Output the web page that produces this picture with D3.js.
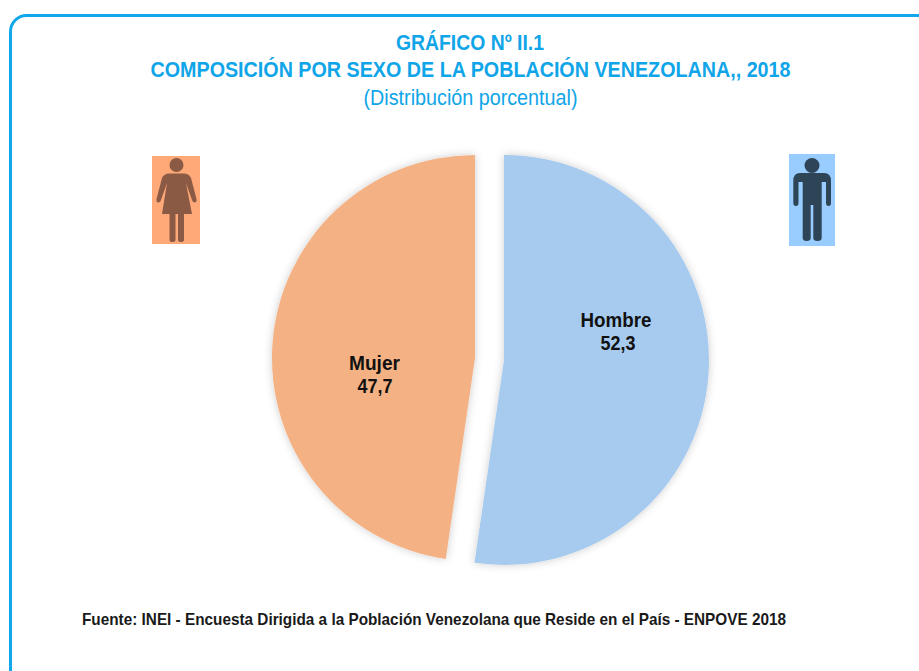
<!DOCTYPE html>
<html>
<head>
<meta charset="utf-8">
<script src="https://cdn.jsdelivr.net/npm/d3@7"></script>
<style>
  html, body { margin: 0; padding: 0; background: #fff; }
  svg { display: block; }
</style>
</head>
<body>
<div id="chart"></div>
<script>
const categories = ["Hombre", "Mujer"];
const shares = [52.3, 47.7];
const valueLabels = ["52,3", "47,7"];
const titleLines = [
  "GRÁFICO Nº II.1",
  "COMPOSICIÓN POR SEXO DE LA POBLACIÓN VENEZOLANA,, 2018"
];
const subtitle = "(Distribución porcentual)";
const source = "Fuente: INEI - Encuesta Dirigida a la Población Venezolana que Reside en el País - ENPOVE 2018";

const width = 919;
const height = 671;
const fontFamily = '"Liberation Sans", Arial, sans-serif';
const frameColor = "#10a8ea";

const sliceColor = d3.scaleOrdinal().domain(categories).range(["#a6cbef", "#f4b183"]);
// each slice has its own centre and radius because the pie is exploded
const sliceGeom = {
  Hombre: { cx: 504, cy: 360, r: 205, labelX: 616, labelY: 327, valueX: 618, nameW: 71, valueW: 35 },
  Mujer: { cx: 475, cy: 358, r: 203, labelX: 374.5, labelY: 370, valueX: 375, nameW: 51, valueW: 35 }
};

const svg = d3.select("#chart").append("svg")
  .attr("width", width)
  .attr("height", height)
  .attr("viewBox", `0 0 ${width} ${height}`)
  .style("font-family", fontFamily);

const defs = svg.append("defs");
const shadow = defs.append("filter").attr("id", "soft-shadow")
  .attr("x", "-10%").attr("y", "-10%").attr("width", "120%").attr("height", "120%");
shadow.append("feDropShadow")
  .attr("dx", 0).attr("dy", 0).attr("stdDeviation", 4)
  .attr("flood-color", "#000").attr("flood-opacity", 0.2);
defs.append("filter").attr("id", "icon-blur")
  .append("feGaussianBlur").attr("stdDeviation", 0.7);

// Frame, runs off the page at right and bottom like the source
svg.append("rect")
  .attr("x", 10.5).attr("y", 15.5)
  .attr("width", 930).attr("height", 670)
  .attr("rx", 16)
  .attr("fill", "#fff")
  .attr("stroke", frameColor)
  .attr("stroke-width", 3);

// Titles: the source font is condensed, so squeeze a larger size into the measured width
const titles = svg.append("g").attr("text-anchor", "middle").attr("fill", "#0fa5e8");
titles.append("text").attr("x", 470).attr("y", 50)
  .attr("font-size", 22.5).attr("font-weight", 700).attr("textLength", 148)
  .attr("lengthAdjust", "spacingAndGlyphs").text(titleLines[0]);
titles.append("text").attr("x", 470.5).attr("y", 77)
  .attr("font-size", 22.5).attr("font-weight", 700).attr("textLength", 640)
  .attr("lengthAdjust", "spacingAndGlyphs").text(titleLines[1]);
titles.append("text").attr("x", 470.5).attr("y", 105)
  .attr("font-size", 22).attr("textLength", 214)
  .attr("lengthAdjust", "spacingAndGlyphs").text(subtitle);

// Pie
const pie = d3.pie().sort(null).value((d) => d.value);
const slices = pie(categories.map((c, i) => ({ name: c, value: shares[i], label: valueLabels[i] })));

const sliceG = svg.append("g");
slices.forEach((s) => {
  const g = sliceGeom[s.data.name];
  const arc = d3.arc().innerRadius(0).outerRadius(g.r);
  sliceG.append("path")
    .attr("d", arc(s))
    .attr("transform", `translate(${g.cx},${g.cy})`)
    .attr("fill", sliceColor(s.data.name))
    .attr("filter", "url(#soft-shadow)");
});

// Slice labels
slices.forEach((s) => {
  const g = sliceGeom[s.data.name];
  const t = svg.append("g").attr("text-anchor", "middle").attr("fill", "#111")
    .attr("font-size", 20).attr("font-weight", 700);
  t.append("text").attr("x", g.labelX).attr("y", g.labelY)
    .attr("textLength", g.nameW).attr("lengthAdjust", "spacingAndGlyphs").text(s.data.name);
  t.append("text").attr("x", g.valueX).attr("y", g.labelY + 23)
    .attr("textLength", g.valueW).attr("lengthAdjust", "spacingAndGlyphs").text(s.data.label);
});

// Icons, local coordinates measured from the rectangle's corner
const womanIcon = svg.append("g").attr("transform", "translate(152,156)");
womanIcon.append("rect").attr("width", 48).attr("height", 88).attr("fill", "#ffa878");
const womanFig = womanIcon.append("g").attr("fill", "#8a5a44").attr("filter", "url(#icon-blur)");
womanFig.append("circle").attr("cx", 24.5).attr("cy", 9).attr("r", 7);
womanFig.append("path").attr("d",
  "M17,17.5 L32,17.5 Q37,17.5 39,22 L44.5,43 Q45,46 43,46.5 Q41,47 40,44 L34,27 L40,58 L10,58 L15,27 L9,44 Q8,47 6,46.5 Q4,46 4.5,43 L10,22 Q12,17.5 17,17.5 Z");
womanFig.append("rect").attr("x", 17.5).attr("y", 56).attr("width", 6).attr("height", 30).attr("rx", 2.5);
womanFig.append("rect").attr("x", 26).attr("y", 56).attr("width", 6).attr("height", 30).attr("rx", 2.5);

const manIcon = svg.append("g").attr("transform", "translate(789,154)");
manIcon.append("rect").attr("width", 46).attr("height", 92).attr("fill", "#99ccff");
const manFig = manIcon.append("g").attr("fill", "#2f4558").attr("filter", "url(#icon-blur)");
manFig.append("circle").attr("cx", 23).attr("cy", 11.5).attr("r", 7.5);
manFig.append("path").attr("d",
  "M11,19 L35,19 Q42,19 42,27 L42,49 Q42,52 39.5,52 Q37,52 37,49 L37,28 L32.7,28 L32.7,84 Q32.7,87 28.5,87 Q24.3,87 24.3,84 L24.3,51 L21.7,51 L21.7,84 Q21.7,87 17.7,87 Q13.7,87 13.7,84 L13.7,28 L9.5,28 L9.5,49 Q9.5,52 7,52 Q4.3,52 4.3,49 L4.3,27 Q4.3,19 11,19 Z");

// Source note
svg.append("text").attr("x", 82).attr("y", 625)
  .attr("font-size", 16.5).attr("font-weight", 700).attr("fill", "#1a1a1a")
  .attr("textLength", 704).attr("lengthAdjust", "spacingAndGlyphs")
  .text(source);
</script>
</body>
</html>
